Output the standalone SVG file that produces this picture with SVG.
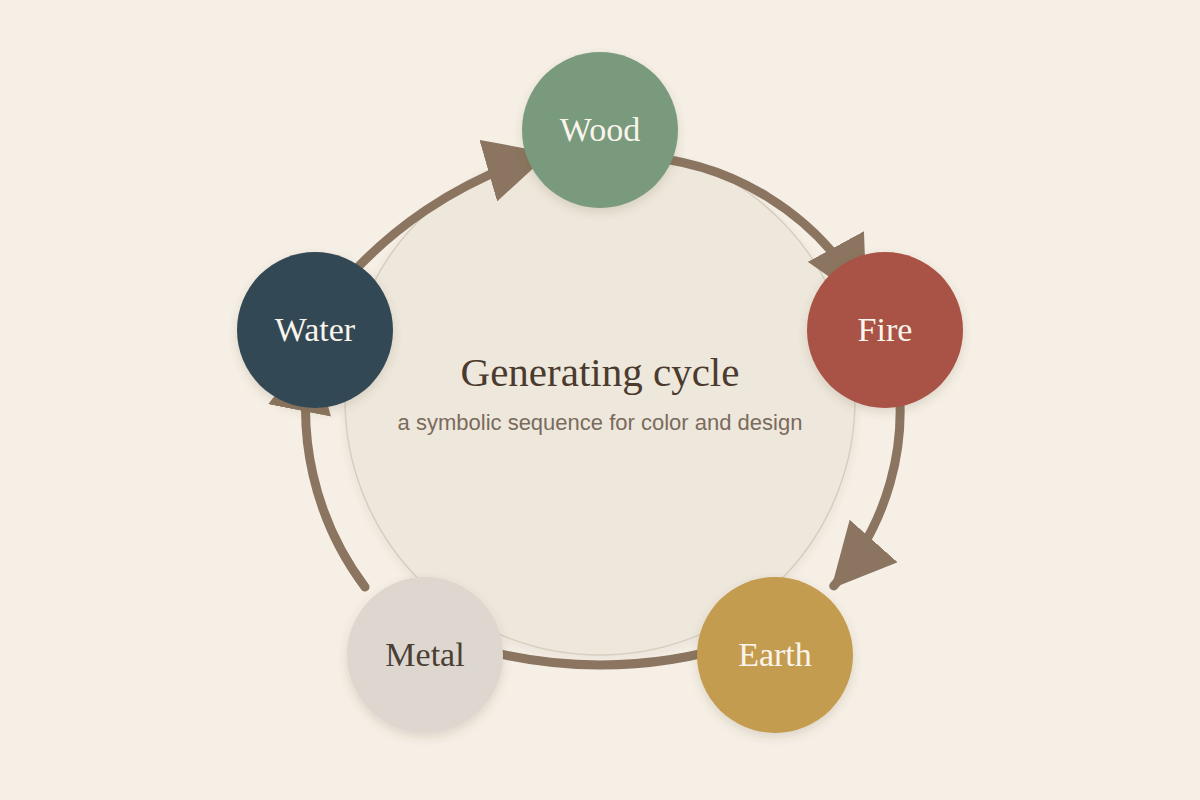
<svg xmlns="http://www.w3.org/2000/svg" width="1200" height="800" viewBox="0 0 1200 800">
  <style>
    .conn { fill: none; stroke: #8B7560; stroke-width: 9; stroke-linecap: round; }
    .node-label { font-family: "Liberation Serif", "DejaVu Serif", serif; font-size: 34px; text-anchor: middle; fill: #FAF5EC; }
    .title { font-family: "Liberation Serif", "DejaVu Serif", serif; font-size: 41px; text-anchor: middle; fill: #4B3B2F; }
    .subtitle { font-family: "Liberation Sans", Arial, sans-serif; font-size: 22px; text-anchor: middle; fill: #7A6B5D; }
  </style>
  <defs>
    <marker id="arrow" viewBox="0 0 10 10" refX="9.4" refY="5" markerUnits="userSpaceOnUse" markerWidth="64" markerHeight="64" orient="auto">
      <path d="M0,0 L10,5 L0,10 z" fill="#8B7560"/>
    </marker>
    <filter id="shadow" x="-30%" y="-30%" width="160%" height="160%">
      <feDropShadow dx="0" dy="4" stdDeviation="5" flood-color="#5A4630" flood-opacity="0.16"/>
    </filter>
    <filter id="softshadow" x="-10%" y="-10%" width="120%" height="120%">
      <feDropShadow dx="0" dy="3" stdDeviation="4" flood-color="#5A4630" flood-opacity="0.08"/>
    </filter>
  </defs>

  <rect width="1200" height="800" fill="#F5EFE6"/>

  <g id="center">
    <circle cx="600" cy="400" r="255" fill="#EEE7DC" stroke="#D7CEBF" stroke-width="1.5" filter="url(#softshadow)"/>
    <text class="title" x="600" y="386">Generating cycle</text>
    <text class="subtitle" x="600" y="430">a symbolic sequence for color and design</text>
  </g>

  <g id="connectors">
    <path class="conn" d="M 328.9 300.5 A 424 424 0 0 1 546.1 154.1" marker-end="url(#arrow)"/>
    <path class="conn" d="M 632.6 156.2 A 275 275 0 0 1 864.7 299.3" marker-end="url(#arrow)"/>
    <path class="conn" d="M 896.1 365.4 A 263.5 263.5 0 0 1 833.7 586" marker-end="url(#arrow)"/>
    <path class="conn" d="M 740 643.1 A 458 458 0 0 1 460 643.1"/>
    <path class="conn" d="M 365 587 A 297 297 0 0 1 311.2 351.4" marker-end="url(#arrow)"/>
  </g>

  <g id="wood">
    <circle cx="600" cy="130" r="78" fill="#7A9A7E" filter="url(#shadow)"/>
    <text class="node-label" x="600" y="141">Wood</text>
  </g>
  <g id="fire">
    <circle cx="885" cy="330" r="78" fill="#A85345" filter="url(#shadow)"/>
    <text class="node-label" x="885" y="341">Fire</text>
  </g>
  <g id="earth">
    <circle cx="775" cy="655" r="78" fill="#C49C50" filter="url(#shadow)"/>
    <text class="node-label" x="775" y="666">Earth</text>
  </g>
  <g id="metal">
    <circle cx="425" cy="655" r="78" fill="#DED7CF" filter="url(#shadow)"/>
    <text class="node-label" x="425" y="666" style="fill:#4A3F36">Metal</text>
  </g>
  <g id="water">
    <circle cx="315" cy="330" r="78" fill="#334A55" filter="url(#shadow)"/>
    <text class="node-label" x="315" y="341">Water</text>
  </g>
</svg>
